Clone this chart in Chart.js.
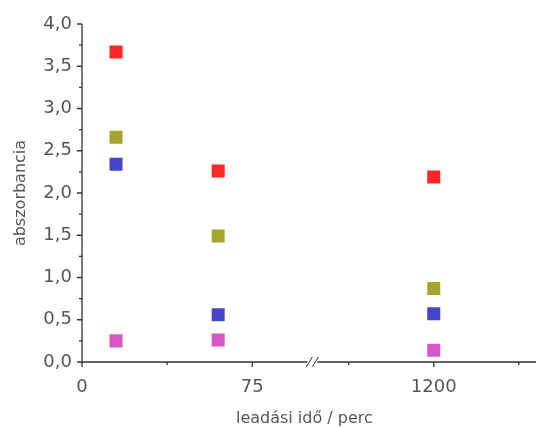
<!DOCTYPE html>
<html>
<head>
<meta charset="utf-8">
<script src="https://cdn.jsdelivr.net/npm/chart.js@4.4.0/dist/chart.umd.min.js"></script>
<style>
html, body { margin: 0; padding: 0; background: #fff; overflow: hidden; }
#wrap { width: 536px; height: 428px; }
</style>
</head>
<body>
<div id="wrap"><canvas id="absCanvas"></canvas></div>
<script>
// leadási idő (perc) and measured absorbance per series
const times = [15, 60, 1200];
const redValues = [3.67, 2.26, 2.19];
const oliveValues = [2.66, 1.49, 0.87];
const blueValues = [2.34, 0.56, 0.57];
const magentaValues = [0.25, 0.26, 0.14];
const xMajorTicks = [0, 75, 1200];
const xMinorTicks = [37.5, 1162.5, 1237.5];

// broken x axis: everything past the break is shifted left
const breakAt = 101.5;
const shift = 1045;
const toAxis = t => (t <= breakAt ? t : t - shift);

function points(values) {
    return times.map((t, i) => ({ x: toAxis(t), y: values[i] }));
}

function dataset(label, values, color) {
    return {
        label: label,
        data: points(values),
        pointStyle: 'rect',
        pointRadius: 9.2,
        pointHoverRadius: 9.2,
        backgroundColor: color,
        borderColor: color,
        borderWidth: 0
    };
}

const axisPlugin = {
    id: 'brokenAxis',
    afterDraw(chart) {
        const ctx = chart.ctx;
        const xs = chart.scales.x, ys = chart.scales.y;
        const x0 = xs.left, yb = ys.bottom;
        ctx.save();
        ctx.strokeStyle = '#333';
        ctx.lineWidth = 1.3;
        ctx.beginPath();
        // y axis + ticks
        ctx.moveTo(x0, ys.top);
        ctx.lineTo(x0, yb);
        ys.ticks.forEach(t => {
            const p = ys.getPixelForValue(t.value);
            const major = Math.round(t.value * 4) % 2 === 0;
            ctx.moveTo(x0 - (major ? 5 : 3), p);
            ctx.lineTo(x0, p);
        });
        // x axis with gap at the break
        const bp = xs.getPixelForValue(breakAt);
        ctx.moveTo(x0 - 5, yb);
        ctx.lineTo(bp - 5, yb);
        ctx.moveTo(bp + 5, yb);
        ctx.lineTo(chart.width, yb);
        xMajorTicks.forEach(t => {
            const p = xs.getPixelForValue(toAxis(t));
            ctx.moveTo(p, yb);
            ctx.lineTo(p, yb + 5);
        });
        xMinorTicks.forEach(t => {
            const p = xs.getPixelForValue(toAxis(t));
            ctx.moveTo(p, yb);
            ctx.lineTo(p, yb + 3);
        });
        ctx.stroke();
        // the "//" marks
        ctx.lineWidth = 1;
        ctx.beginPath();
        [-3, 3].forEach(d => {
            ctx.moveTo(bp + d - 3, yb + 5);
            ctx.lineTo(bp + d + 3, yb - 5);
        });
        ctx.stroke();
        ctx.restore();
    }
};

const ctx = document.getElementById('absCanvas');

new Chart(ctx, {
    type: 'scatter',
    data: {
        datasets: [
            dataset('red', redValues, '#ff2626'),
            dataset('olive', oliveValues, '#a6a42e'),
            dataset('blue', blueValues, '#4646c6'),
            dataset('magenta', magentaValues, '#d656c6')
        ]
    },
    options: {
        responsive: true,
        maintainAspectRatio: false,
        animation: false,
        layout: { padding: { top: 24, right: 0, left: 0, bottom: 0 } },
        plugins: {
            legend: { display: false },
            tooltip: { enabled: false }
        },
        scales: {
            x: {
                type: 'linear',
                min: 0,
                max: 196,
                grid: { display: false, drawTicks: false },
                border: { display: false },
                afterBuildTicks: scale => {
                    scale.ticks = xMajorTicks.concat(xMinorTicks)
                        .map(toAxis)
                        .sort((a, b) => a - b)
                        .map(v => ({ value: v }));
                },
                afterFit: scale => { scale.height = 66; },
                ticks: {
                    autoSkip: false,
                    maxRotation: 0,
                    padding: 15,
                    color: '#555',
                    font: { family: 'DejaVu Sans', size: 18 },
                    callback: value => {
                        const t = xMajorTicks.find(m => Math.abs(toAxis(m) - value) < 1e-6);
                        return t === undefined ? '' : String(t);
                    }
                },
                title: {
                    display: true,
                    text: 'leadási idő / perc',
                    color: '#555',
                    font: { family: 'DejaVu Sans', size: 16 },
                    padding: { top: 0, bottom: 0 }
                }
            },
            y: {
                min: 0,
                max: 4,
                grid: { display: false, drawTicks: false },
                border: { display: false },
                afterFit: scale => { scale.width = 82; },
                ticks: {
                    stepSize: 0.25,
                    autoSkip: false,
                    padding: 10,
                    color: '#555',
                    font: { family: 'DejaVu Sans', size: 18 },
                    callback: value => (Math.round(value * 4) % 2 === 0 ? value.toFixed(1).replace('.', ',') : '')
                },
                title: {
                    display: true,
                    text: 'abszorbancia',
                    color: '#555',
                    font: { family: 'DejaVu Sans', size: 16 },
                    padding: { top: 11, bottom: 0 }
                }
            }
        }
    },
    plugins: [axisPlugin]
});
</script>
</body>
</html>
